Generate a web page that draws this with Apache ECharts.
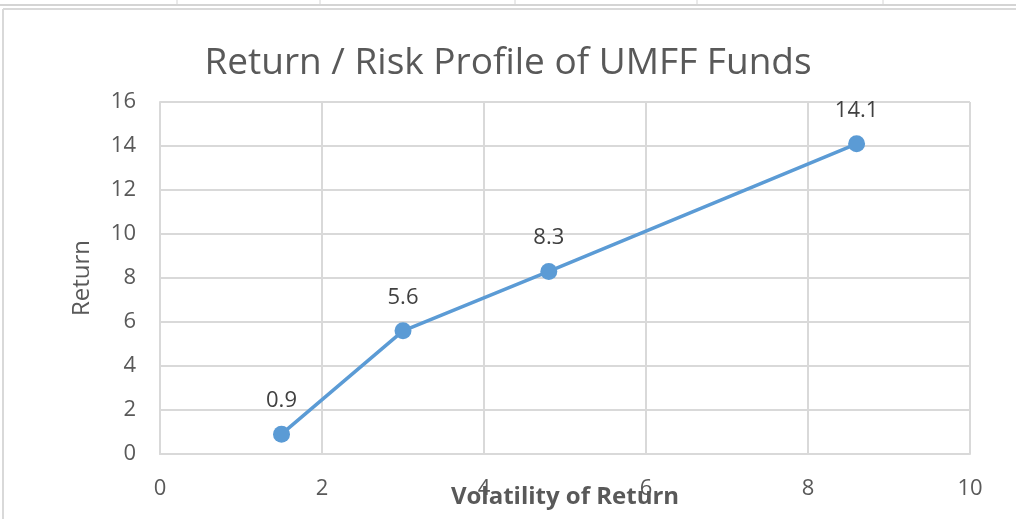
<!DOCTYPE html>
<html>
<head>
<meta charset="utf-8">
<script src="https://cdn.jsdelivr.net/npm/echarts@6/dist/echarts.min.js"></script>
<style>
html,body{margin:0;padding:0;background:#fff;}
#chart{width:1016px;height:519px;}
</style>
</head>
<body>
<div id="chart"></div>
<script>
// 数据
var volatility = [1.5, 3.0, 4.8, 8.6];
var returns = [0.9, 5.6, 8.3, 14.1];
var xTicks = [0, 2, 4, 6, 8, 10];
var yTicks = [0, 2, 4, 6, 8, 10, 12, 14, 16];

var points = [];
for (var i = 0; i < volatility.length; i++) {
	points.push([volatility[i], returns[i]]);
}

var font = "'Open Sans', sans-serif";

// spreadsheet cells behind the chart
var sheet = [
	{type: 'line', shape: {x1: 0, y1: 5, x2: 1016, y2: 5}, style: {stroke: '#d4d4d4', lineWidth: 2}, silent: true},
	{type: 'line', shape: {x1: 3, y1: 9, x2: 1016, y2: 9}, style: {stroke: '#d9d9d9', lineWidth: 2}, silent: true},
	{type: 'line', shape: {x1: 3, y1: 9, x2: 3, y2: 519}, style: {stroke: '#d9d9d9', lineWidth: 2}, silent: true}
];
var cellX = [177, 320, 515, 697, 883];
for (var c = 0; c < cellX.length; c++) {
	sheet.push({type: 'line', shape: {x1: cellX[c], y1: 0, x2: cellX[c], y2: 5}, style: {stroke: '#d4d4d4', lineWidth: 1}, silent: true});
}

var myChart = echarts.init(document.getElementById('chart'));
var option = {
	backgroundColor: '#fff',
	animation: false,
	title: {
		text: 'Return / Risk Profile of UMFF Funds',
		left: 'center',
		top: 40,
		textStyle: {
			color: '#595959',
			fontSize: 37,
			fontWeight: 'normal',
			fontFamily: font
		}
	},
	graphic: sheet,
	grid: {
		left: 160,
		right: 46,
		top: 102,
		bottom: 65,
		outerBoundsMode: 'none'
	},
	xAxis: {
		type: 'value',
		min: xTicks[0],
		max: xTicks[xTicks.length - 1],
		interval: 2,
		name: 'Volatility of Return',
		nameLocation: 'middle',
		nameGap: 31,
		nameMoveOverlap: false,
		nameTextStyle: {
			color: '#595959',
			fontSize: 24,
			fontWeight: 'bold',
			fontFamily: font
		},
		axisLine: {show: true, lineStyle: {color: '#d9d9d9', width: 2}},
		axisTick: {show: false},
		axisLabel: {
			color: '#595959',
			fontSize: 22,
			margin: 24,
			fontFamily: font
		},
		splitLine: {show: true, lineStyle: {color: '#d9d9d9', width: 2}}
	},
	yAxis: {
		type: 'value',
		min: yTicks[0],
		max: yTicks[yTicks.length - 1],
		interval: 2,
		name: 'Return',
		nameLocation: 'middle',
		nameGap: 66,
		nameMoveOverlap: false,
		nameRotate: 90,
		nameTextStyle: {
			color: '#595959',
			fontSize: 24,
			fontFamily: font
		},
		axisLine: {show: true, lineStyle: {color: '#d9d9d9', width: 2}},
		axisTick: {show: false},
		axisLabel: {
			color: '#595959',
			fontSize: 22,
			margin: 24,
			fontFamily: font
		},
		splitLine: {show: true, lineStyle: {color: '#d9d9d9', width: 2}}
	},
	series: [{
		type: 'line',
		data: points,
		symbol: 'circle',
		symbolSize: 17,
		lineStyle: {color: '#5b9bd5', width: 3.5},
		itemStyle: {color: '#5b9bd5'},
		label: {
			show: true,
			position: 'top',
			distance: 14,
			color: '#404040',
			fontSize: 22,
			fontFamily: font,
			formatter: function (p) { return p.value[1].toFixed(1); }
		}
	}]
};
myChart.setOption(option);
</script>
</body>
</html>
